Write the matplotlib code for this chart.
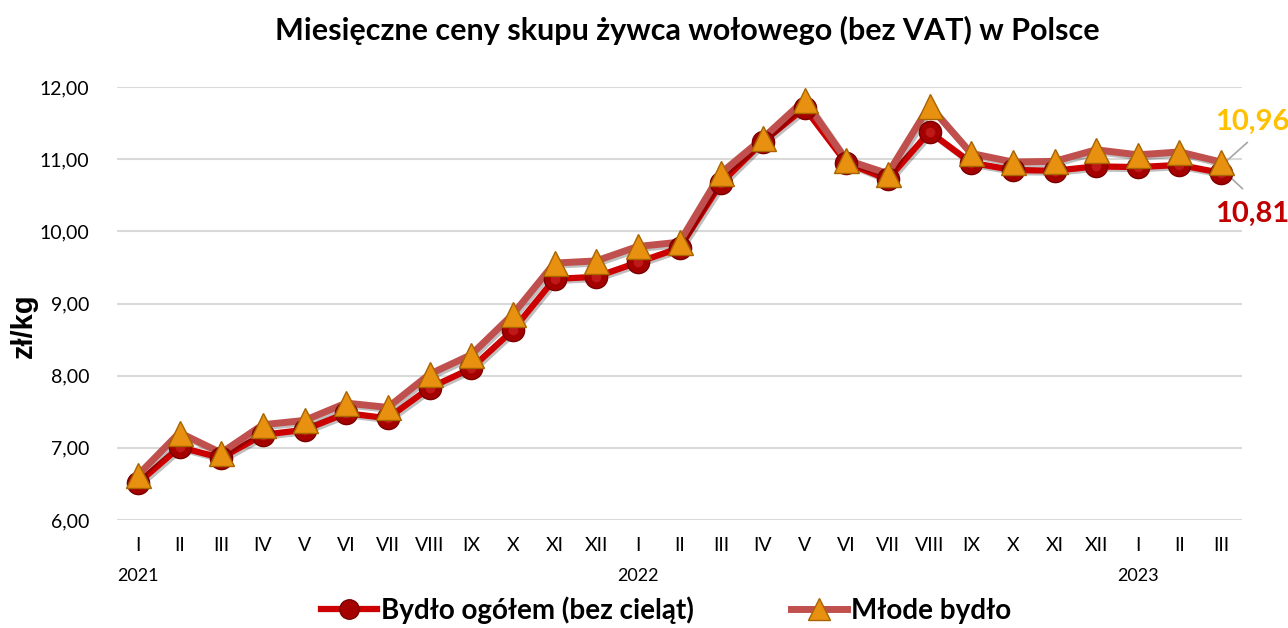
import numpy as np
import matplotlib
matplotlib.use("Agg")
import matplotlib.pyplot as plt
import matplotlib.patheffects as pe
from matplotlib.lines import Line2D

# months I 2021 .. III 2023
months = ["I", "II", "III", "IV", "V", "VI", "VII", "VIII", "IX", "X", "XI", "XII",
          "I", "II", "III", "IV", "V", "VI", "VII", "VIII", "IX", "X", "XI", "XII",
          "I", "II", "III"]
years = {0: "2021", 12: "2022", 24: "2023"}

bydlo_ogolem = [6.51, 7.01, 6.86, 7.18, 7.25, 7.48, 7.41, 7.83, 8.10, 8.63, 9.34, 9.37,
                9.57, 9.77, 10.67, 11.24, 11.71, 10.95, 10.72, 11.38, 10.95, 10.85,
                10.84, 10.90, 10.89, 10.92, 10.81]
mlode_bydlo = [6.62, 7.21, 6.93, 7.32, 7.38, 7.62, 7.56, 8.02, 8.29, 8.85, 9.56, 9.59,
               9.79, 9.85, 10.81, 11.29, 11.82, 10.99, 10.80, 11.74, 11.08, 10.96,
               10.97, 11.13, 11.06, 11.10, 10.96]
yticks = [6, 7, 8, 9, 10, 11, 12]

font = "Lato"
x = np.arange(len(months))

fig = plt.figure(figsize=(12.88, 6.28), dpi=100)
ax = fig.add_axes([117 / 1288, 1 - 520 / 628, (1242 - 117) / 1288, (520 - 87) / 628])

shadow = [pe.SimpleLineShadow(offset=(1.5, -1.5), alpha=0.25), pe.Normal()]

ax.plot(x, bydlo_ogolem, color="#CC0000", lw=4.5, zorder=3, clip_on=False,
        solid_joinstyle="miter", path_effects=shadow)
ax.plot(x, mlode_bydlo, color="#C0504D", lw=5, zorder=4, clip_on=False,
        solid_joinstyle="miter", path_effects=shadow)
ax.plot(x, bydlo_ogolem, ls="none", marker="o", ms=16, mfc="#A50000", mec="#7A0000",
        mew=1, zorder=5, clip_on=False)
ax.plot(x, bydlo_ogolem, ls="none", marker="o", ms=7, mfc="#D83030", mec="none",
        alpha=0.5, zorder=5, clip_on=False)
ax.plot(x, mlode_bydlo, ls="none", marker="^", ms=18, mfc="#E8900F", mec="#A86400",
        mew=1, zorder=6, clip_on=False)

ax.set_xlim(-0.5, len(months) - 0.5)
ax.set_ylim(6, 12)
ax.set_yticks(yticks)
ax.set_yticklabels([f"{v:.2f}".replace(".", ",") for v in yticks],
                   fontsize=14, fontfamily=font)
ax.set_xticks(x)
ax.set_xticklabels(months, fontsize=14, fontfamily=font)
ax.tick_params(length=0, pad=12)
ax.tick_params(axis="y", pad=20)
ax.grid(axis="y", color="#D9D9D9", lw=1.5)
ax.set_axisbelow(True)
for s in ax.spines.values():
    s.set_visible(False)

for i, yr in years.items():
    ax.text(i, -0.13, yr, transform=ax.get_xaxis_transform(), ha="center", va="center",
            fontsize=13, fontfamily=font)

fig.text(24 / 1288, 1 - 326 / 628, "zł/kg", rotation=90, ha="center", va="center",
         fontsize=21, fontweight="bold", fontfamily="Liberation Sans")

fig.text(687 / 1288, 1 - 30 / 628, "Miesięczne ceny skupu żywca wołowego (bez VAT) w Polsce",
         ha="center", va="center", fontsize=22, fontweight="bold", fontfamily=font)

# end-point labels with leader lines
last = len(months) - 1
ax.annotate(f"{mlode_bydlo[-1]:.2f}".replace(".", ","), xy=(last + 0.1, mlode_bydlo[-1]),
            xytext=(1252 / 1288, 1 - 122 / 628), textcoords="figure fraction",
            ha="center", va="center", fontsize=21, fontweight="bold", color="#FFC000",
            fontfamily=font, annotation_clip=False,
            arrowprops=dict(arrowstyle="-", color="#A6A6A6", lw=1.2, shrinkA=5, shrinkB=0,
                            relpos=(0.55, 0)))
ax.annotate(f"{bydlo_ogolem[-1]:.2f}".replace(".", ","), xy=(last + 0.05, bydlo_ogolem[-1] + 0.03),
            xytext=(1252 / 1288, 1 - 214 / 628), textcoords="figure fraction",
            ha="center", va="center", fontsize=21, fontweight="bold", color="#C00000",
            fontfamily=font, annotation_clip=False,
            arrowprops=dict(arrowstyle="-", color="#A6A6A6", lw=1.2, shrinkA=10, shrinkB=0,
                            relpos=(0.55, 1)))

handles = [
    Line2D([], [], color="#CC0000", lw=4.5, marker="o", ms=14, mfc="#A50000", mec="#7A0000"),
    Line2D([], [], color="#C0504D", lw=5, marker="^", ms=16, mfc="#E8900F", mec="#A86400"),
]
fig.legend(handles, ["Bydło ogółem (bez cieląt)", "Młode bydło"], loc="center",
           bbox_to_anchor=(666 / 1288, 1 - 610 / 628), ncol=2, frameon=False,
           handlelength=2.0, columnspacing=3.5, handletextpad=0.15,
           prop=dict(family=font, weight="bold", size=20))

fig.savefig("out.png", dpi=100, facecolor="white")
